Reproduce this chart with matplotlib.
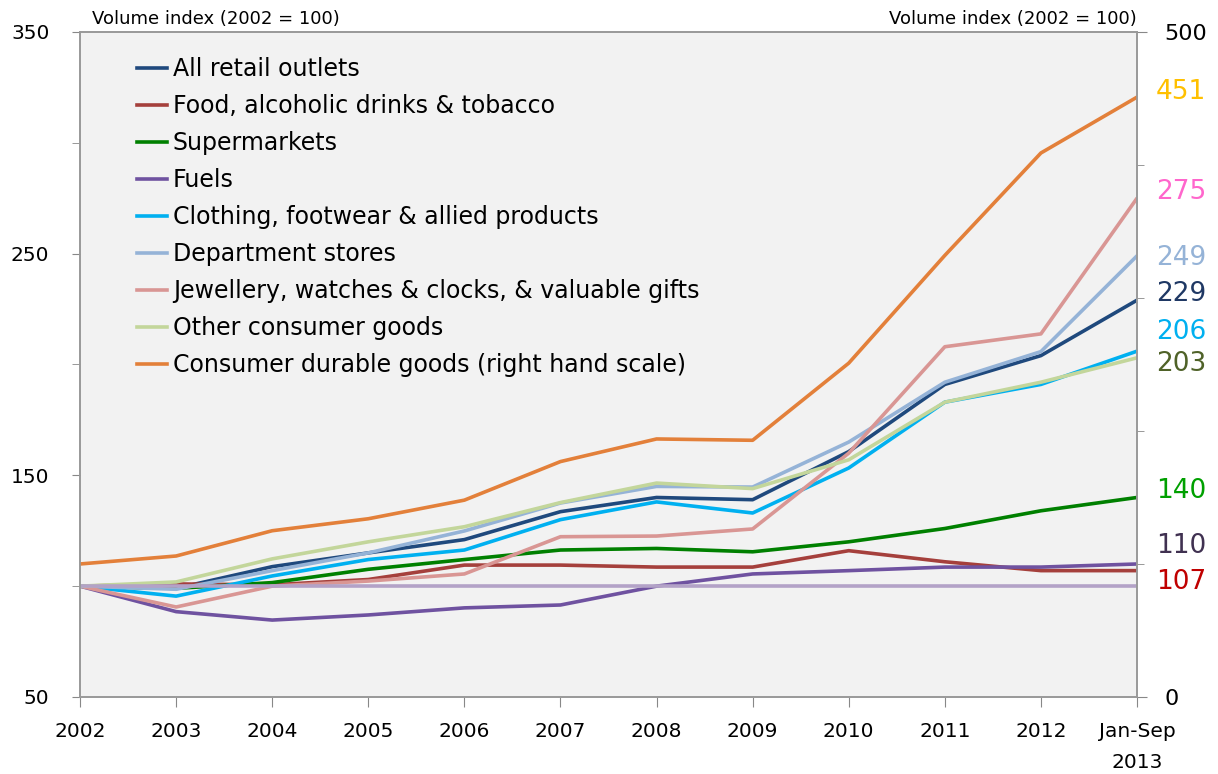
import matplotlib.pyplot as plt
from matplotlib.lines import Line2D
from matplotlib.ticker import FixedLocator

plt.rcParams['font.family'] = ['DejaVu Sans']

years = ["2002", "2003", "2004", "2005", "2006", "2007", "2008",
         "2009", "2010", "2011", "2012", "Jan-Sep\n2013"]

all_retail = [100, 99, 108.8, 115, 121, 133.6, 140, 139, 160.7, 191, 204, 229]
food = [100, 101, 100.6, 103, 109.5, 109.5, 108.6, 108.6, 116, 111, 107, 107]
supermarkets = [100, 99, 101.6, 107.6, 112, 116.3, 117, 115.5, 120, 126, 134, 140]
fuels = [100, 88.5, 84.7, 87, 90.2, 91.5, 100, 105.5, 107, 108.6, 108.6, 110]
clothing = [100, 95.5, 104.6, 112, 116.3, 130, 138, 133, 153.3, 183, 191, 206]
department = [100, 98.6, 107, 115, 124.9, 137.5, 145, 144.7, 165, 192, 205.8, 249]
jewellery = [100, 90.6, 100, 102.3, 105.5, 122.3, 122.6, 125.8, 160, 208, 213.8, 275]
other_goods = [100, 101.9, 112.3, 120, 126.8, 137.7, 146.5, 144, 157, 183, 192, 203]
durable = [100, 106, 125, 134, 148, 177, 194, 193, 251, 332, 409, 451]

series = [
    ("All retail outlets", all_retail, "#1F497D"),
    ("Food, alcoholic drinks & tobacco", food, "#A5403C"),
    ("Supermarkets", supermarkets, "#008000"),
    ("Fuels", fuels, "#6F52A0"),
    ("Clothing, footwear & allied products", clothing, "#00B0F0"),
    ("Department stores", department, "#95B3D7"),
    ("Jewellery, watches & clocks, & valuable gifts", jewellery, "#D99694"),
    ("Other consumer goods", other_goods, "#C3D69B"),
]
durable_name = "Consumer durable goods (right hand scale)"
durable_color = "#E3803A"

# end-of-line value labels: (series values, colour, y position on left scale)
end_labels = [
    (durable, "#FFC000", 323),
    (jewellery, "#FF66CC", 278),
    (department, "#95B3D7", 248),
    (all_retail, "#1F3864", 232),
    (clothing, "#00B0F0", 214.5),
    (other_goods, "#4F6228", 200),
    (supermarkets, "#00A000", 143),
    (fuels, "#403151", 118),
    (food, "#C00000", 102),
]

x = list(range(len(years)))

fig = plt.figure(figsize=(12.18, 7.74), dpi=100)
ax = fig.add_axes([0.0657, 0.0995, 0.8678, 0.8592])
ax.set_facecolor("#F2F2F2")

for name, vals, col in series:
    ax.plot(x, vals, color=col, lw=2.6, solid_capstyle="round")
ax.plot(x, [100] * len(x), color="#B3A2C7", lw=2.6)

ax2 = ax.twinx()
ax2.plot(x, durable, color=durable_color, lw=2.6)

ax.set_xlim(0, len(x) - 1)
ax.set_ylim(50, 350)
ax2.set_ylim(0, 500)

ax.set_xticks(x)
ax.set_xticklabels(years, fontsize=14.5, linespacing=1.8)
ax.yaxis.set_major_locator(FixedLocator([50, 150, 250, 350]))
ax.yaxis.set_minor_locator(FixedLocator([100, 200, 300]))
ax.tick_params(axis="y", which="both", length=6, color="#888888", labelsize=14.5, pad=16)
ax.tick_params(axis="x", length=7, color="#888888", pad=11)
ax2.yaxis.set_major_locator(FixedLocator([0, 500]))
ax2.yaxis.set_minor_locator(FixedLocator([100, 200, 300, 400]))
ax2.tick_params(axis="y", which="major", length=7, color="#888888", labelsize=16, pad=13)
ax2.tick_params(axis="y", which="minor", length=5, color="#888888")

for a in (ax, ax2):
    for s in a.spines.values():
        s.set_color("#999999")
        s.set_linewidth(1.2)

for vals, col, ypos in end_labels:
    ax.text(1.018, ypos, str(int(vals[-1])), color=col, fontsize=19,
            ha="left", va="center", transform=ax.get_yaxis_transform())

ax.text(0.011, 1.006, "Volume index (2002 = 100)", transform=ax.transAxes,
        fontsize=13, ha="left", va="bottom")
ax.text(1.0, 1.006, "Volume index (2002 = 100)", transform=ax.transAxes,
        fontsize=13, ha="right", va="bottom")

handles = [Line2D([], [], color=c, lw=2.6) for _, _, c in series]
handles.append(Line2D([], [], color=durable_color, lw=2.6))
labels = [n for n, _, _ in series] + [durable_name]
ax2.legend(handles, labels, loc="upper left", bbox_to_anchor=(0.054, 0.962),
           frameon=False, fontsize=17, handlelength=1.27, handletextpad=0.25,
           labelspacing=0.55, borderaxespad=0, borderpad=0)

fig.savefig("out.png", dpi=100)
